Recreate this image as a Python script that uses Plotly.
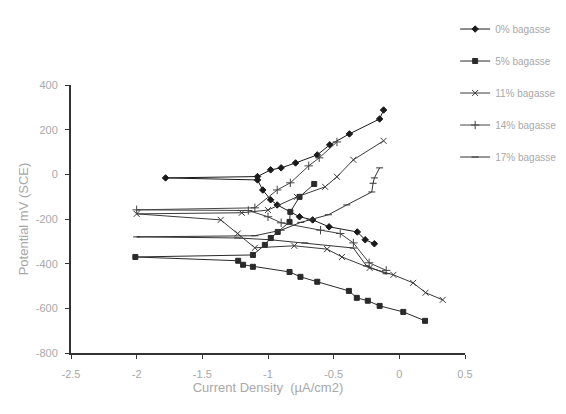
import plotly.graph_objects as go

# ---- data ----
series_names = ["0% bagasse", "5% bagasse", "11% bagasse", "14% bagasse", "17% bagasse"]

x0 = [-0.19, -0.26, -0.32, -0.535, -0.66, -0.76, -0.93, -0.98, -1.04, -1.08, -1.78,
      -1.08, -0.98, -0.90, -0.79, -0.625, -0.53, -0.38, -0.15, -0.12]
y0 = [-311, -293, -258, -235, -204, -190, -137, -114, -70, -25, -16,
      -10, 20, 29, 51, 87, 132, 181, 248, 288]

x5 = [0.196, 0.03, -0.15, -0.24, -0.324, -0.384, -0.625, -0.753, -0.836, -1.115, -1.19, -1.227, -2.01,
      -1.115, -1.024, -0.979, -0.926, -0.836, -0.83, -0.76, -0.648]
y5 = [-656, -616, -589, -566, -553, -522, -481, -459, -437, -414, -405, -387, -370,
      -361, -316, -285, -258, -213, -168, -101, -43]

x11 = [0.33, 0.2, 0.105, -0.045, -0.226, -0.437, -0.55, -0.8, -1.1, -1.23, -1.36, -2.0,
       -1.2, -1.0, -0.78, -0.565, -0.475, -0.35, -0.12]
y11 = [-562, -530, -486, -450, -419, -370, -335, -320, -329, -265, -204, -177,
       -172, -160, -101, -56, -11, 65, 150]

x14 = [-0.1, -0.23, -0.35, -0.45, -0.6, -0.9, -1.0, -1.15, -2.0,
       -1.1, -0.93, -0.83, -0.69, -0.61, -0.475]
y14 = [-430, -396, -307, -265, -250, -217, -190, -162, -159,
       -150, -70, -38, 38, 74, 145]

x17 = [-0.1, -0.25, -0.35, -0.72, -0.98, -1.23, -2.0,
       -1.1, -0.9, -0.75, -0.68, -0.54, -0.4, -0.21, -0.2, -0.19, -0.15]
y17 = [-445, -410, -330, -307, -293, -285, -280,
       -275, -250, -215, -204, -181, -137, -79, -40, -16, 29]

x_tickvals = [-2.5, -2, -1.5, -1, -0.5, 0, 0.5]
x_ticktext = ["-2.5", "-2", "-1.5", "-1", "-0.5", "0", "0.5"]
y_tickvals = [400, 200, 0, -200, -400, -600, -800]
y_ticktext = ["400", "200", "0", "-200", "-400", "-600", "-800"]

xs = [x0, x5, x11, x14, x17]
ys = [y0, y5, y11, y14, y17]
symbols = ["diamond", "square", "x-thin", "cross-thin", "line-ew"]
sizes = [5, 5, 6, 6, 5]
line_colors = ["#1a1a1a", "#2a2a2a", "#3a3a3a", "#444444", "#333333"]

fig = go.Figure()
for i in range(5):
    fig.add_trace(go.Scatter(
        x=xs[i], y=ys[i], name=series_names[i], mode="lines+markers",
        legendgroup=str(i),
        line=dict(color=line_colors[i], width=1),
        marker=dict(symbol=symbols[i], size=sizes[i], color=line_colors[i],
                    line=dict(color=line_colors[i], width=1)),
    ))

fam = "Liberation Sans, Arial, sans-serif"
tick_font = dict(family=fam, size=11, color="#a8a8a8")
title_font = dict(family=fam, size=13, color="#a8a8a8")
fig.update_layout(
    width=566, height=414,
    margin=dict(l=71, r=101, t=85, b=61, autoexpand=False),
    paper_bgcolor="white", plot_bgcolor="white",
    font=dict(family=fam, size=10, color="#a8a8a8"),
    showlegend=True,
    legend=dict(x=0.975, y=1.263, xanchor="left", yanchor="top",
                font=dict(family=fam, size=10, color="#a8a8a8"),
                tracegroupgap=13, itemwidth=30, bgcolor="rgba(0,0,0,0)"),
    xaxis=dict(range=[-2.5, 0.5], tickvals=x_tickvals, ticktext=x_ticktext,
               showgrid=False, zeroline=False, showline=True, linecolor="#333333", linewidth=2,
               ticks="outside", ticklen=4, tickcolor="#333333", tickfont=tick_font,
               ticklabelstandoff=6, automargin=False,
               title=dict(text="Current Density  (µA/cm2)", font=title_font, standoff=0)),
    yaxis=dict(range=[-800, 400], tickvals=y_tickvals, ticktext=y_ticktext,
               showgrid=False, zeroline=False, showline=True, linecolor="#333333", linewidth=2,
               ticks="outside", ticklen=4, tickcolor="#333333", tickfont=tick_font,
               ticklabelstandoff=5, automargin=False,
               title=dict(text="Potential mV (SCE)", font=title_font, standoff=4)),
)

fig.write_html("out.html", config={"displayModeBar": False},
               post_script="document.body.style.margin='0px';")
